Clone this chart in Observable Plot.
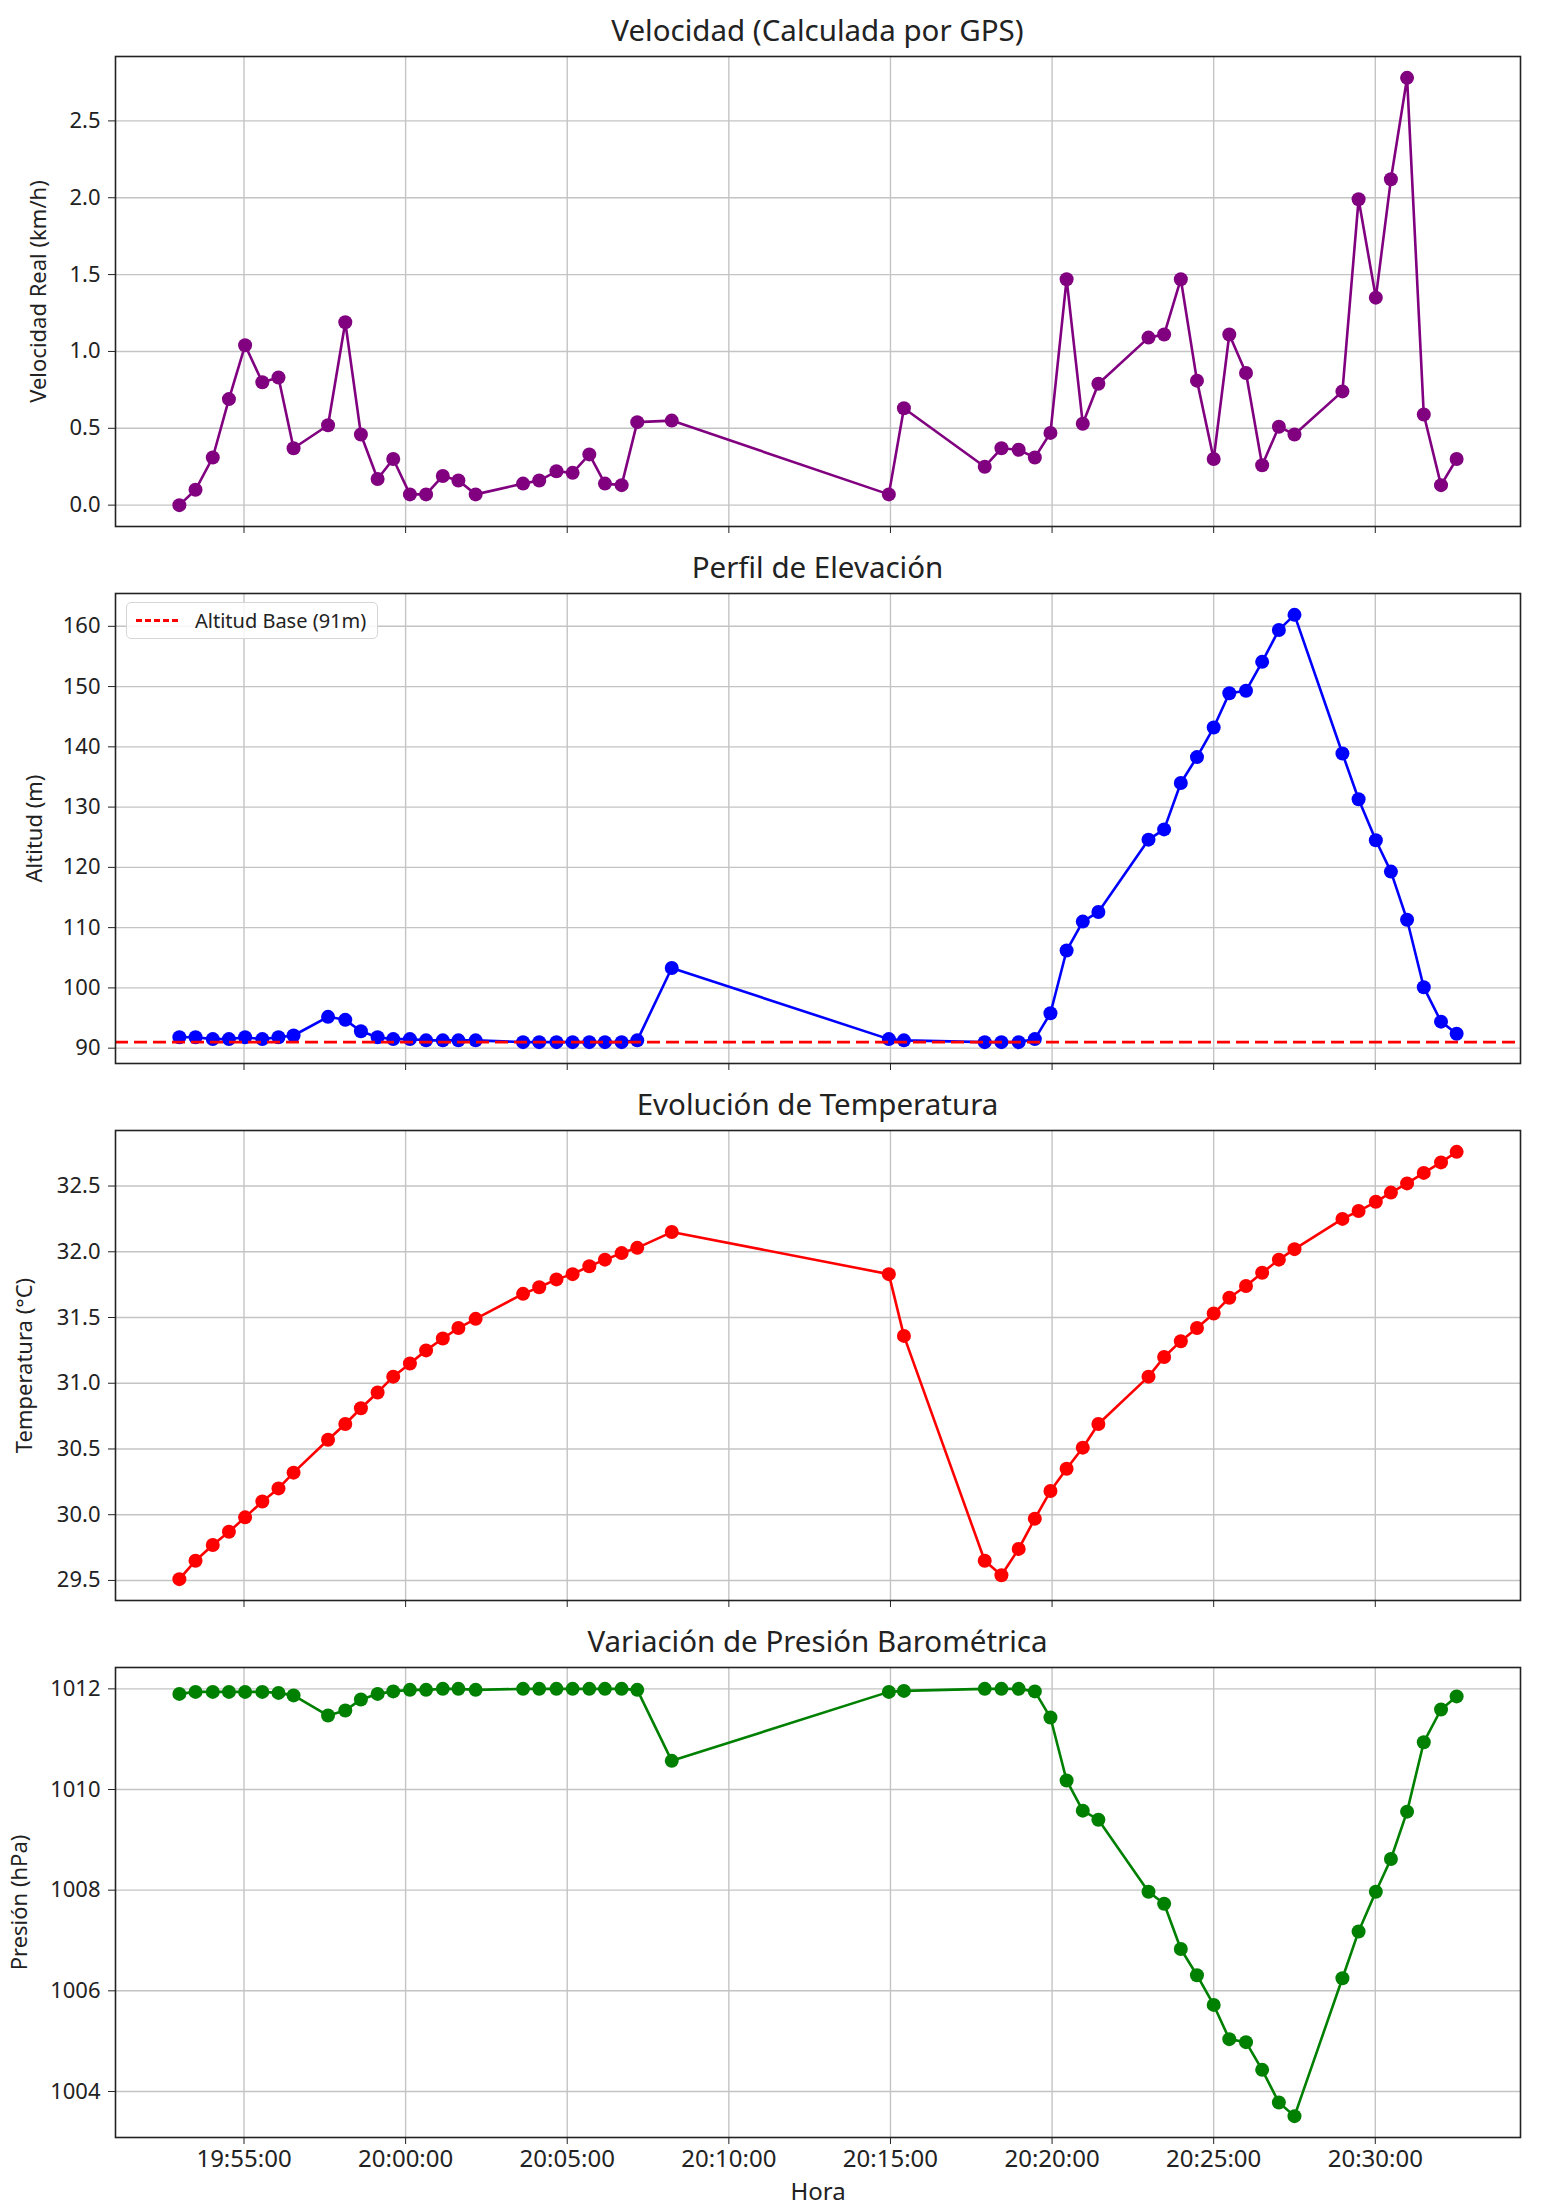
<!DOCTYPE html>
<html>
<head>
<meta charset="utf-8">
<script src="https://cdn.jsdelivr.net/npm/d3@7"></script>
<script src="https://cdn.jsdelivr.net/npm/@observablehq/plot@0.6"></script>
<style>
  html, body { margin: 0; padding: 0; background: #fff; }
  body { width: 1545px; font-family: "Noto Sans", "Open Sans", sans-serif; color: #222; }
  .panel { position: relative; width: 1545px; }
  .title { box-sizing: border-box; height: 46px; padding-top: 14px; line-height: 32px;
           margin-left: 115px; width: 1405px; text-align: center; font-size: 29.5px; color: #222; }
  .legend { position: absolute; left: 126px; top: 65px; width: 252px; height: 37px; box-sizing: border-box;
            border: 1.5px solid #d6d6d6; border-radius: 5px; background: rgba(255,255,255,0.85);
            font-size: 20px; color: #222; }
  .legend .swatch { position: absolute; left: 9px; top: 16px; width: 42px; height: 0;
                    border-top: 3px dashed #ff0000; }
  .legend .lab { position: absolute; left: 68px; top: 0; line-height: 35px; white-space: nowrap; }
</style>
</head>
<body>
<div id="root"></div>
<script>
// ---- data ----
const horas = [
  "19:53:00","19:53:30","19:54:02","19:54:32","19:55:02","19:55:34","19:56:04","19:56:32",
  "19:57:36","19:58:08","19:58:37","19:59:08","19:59:37","20:00:08","20:00:38","20:01:09",
  "20:01:38","20:02:10","20:03:38","20:04:08","20:04:40","20:05:10","20:05:41","20:06:10",
  "20:06:41","20:07:10","20:08:14",
  "20:14:57","20:15:25","20:17:55","20:18:26","20:18:58","20:19:28","20:19:57","20:20:27",
  "20:20:57","20:21:26","20:22:59","20:23:28","20:23:59","20:24:29","20:25:00","20:25:29",
  "20:26:00","20:26:30","20:27:01","20:27:30","20:28:59","20:29:29","20:30:01","20:30:29",
  "20:30:59","20:31:30","20:32:02","20:32:31"
];
const velocidad = [
  0.00,0.10,0.31,0.69,1.04,0.80,0.83,0.37,
  0.52,1.19,0.46,0.17,0.30,0.07,0.07,0.19,
  0.16,0.07,0.14,0.16,0.22,0.21,0.33,0.14,
  0.13,0.54,0.55,
  0.07,0.63,0.25,0.37,0.36,0.31,0.47,1.47,
  0.53,0.79,1.09,1.11,1.47,0.81,0.30,1.11,
  0.86,0.26,0.51,0.46,0.74,1.99,1.35,2.12,
  2.78,0.59,0.13,0.30
];
const altitud = [
  91.8,91.8,91.5,91.5,91.8,91.5,91.8,92.1,
  95.2,94.7,92.8,91.8,91.5,91.5,91.3,91.3,
  91.3,91.3,91.0,91.0,91.0,91.0,91.0,91.0,
  91.0,91.3,103.3,
  91.5,91.3,91.0,91.0,91.0,91.5,95.8,106.2,
  111.0,112.6,124.6,126.3,134.0,138.3,143.2,148.9,
  149.3,154.1,159.4,161.9,138.9,131.3,124.5,119.3,
  111.3,100.1,94.4,92.4
];
const temperatura = [
  29.51,29.65,29.77,29.87,29.98,30.10,30.20,30.32,
  30.57,30.69,30.81,30.93,31.05,31.15,31.25,31.34,
  31.42,31.49,31.68,31.73,31.79,31.83,31.89,31.94,
  31.99,32.03,32.15,
  31.83,31.36,29.65,29.54,29.74,29.97,30.18,30.35,
  30.51,30.69,31.05,31.20,31.32,31.42,31.53,31.65,
  31.74,31.84,31.94,32.02,32.25,32.31,32.38,32.45,
  32.52,32.60,32.68,32.76
];
const presion = [
  1011.90,1011.94,1011.94,1011.94,1011.94,1011.94,1011.92,1011.87,
  1011.47,1011.57,1011.79,1011.90,1011.95,1011.98,1011.98,1012.00,
  1012.00,1011.98,1012.00,1012.00,1012.00,1012.00,1012.00,1012.00,
  1012.00,1011.98,1010.57,
  1011.94,1011.96,1012.00,1012.00,1012.00,1011.95,1011.43,1010.18,
  1009.58,1009.40,1007.97,1007.73,1006.83,1006.31,1005.72,1005.04,
  1004.98,1004.43,1003.78,1003.51,1006.25,1007.18,1007.97,1008.62,
  1009.56,1010.94,1011.59,1011.85
];
const altitudBase = 91;
const ticksHora = ["19:55:00","20:00:00","20:05:00","20:10:00","20:15:00","20:20:00","20:25:00","20:30:00"];
const ticksVel = [0, 0.5, 1.0, 1.5, 2.0, 2.5];
const ticksAlt = [90, 100, 110, 120, 130, 140, 150, 160];
const ticksTemp = [29.5, 30.0, 30.5, 31.0, 31.5, 32.0, 32.5];
const ticksPres = [1004, 1006, 1008, 1010, 1012];

// ---- helpers ----
const parseHora = s => { const [h, m, sec] = s.split(":").map(Number); return new Date(Date.UTC(2024, 0, 1, h, m, sec)); };
const times = horas.map(parseHora);
const xTicks = ticksHora.map(parseHora);
const pad = ([a, b]) => { const d = (b - a) * 0.05; return [a - d, b + d]; };
const xDomain = pad(d3.extent(times, d => +d)).map(d => new Date(d));
const fmtHora = d3.utcFormat("%H:%M:%S");

const panels = [
  {title: "Velocidad (Calculada por GPS)", values: velocidad, color: "#800080", label: "Velocidad Real (km/h)", ticks: ticksVel, fmt: d3.format(".1f"), labelOffset: 85},
  {title: "Perfil de Elevación", values: altitud, color: "#0000ff", label: "Altitud (m)", ticks: ticksAlt, fmt: d3.format("d"), labelOffset: 89},
  {title: "Evolución de Temperatura", values: temperatura, color: "#ff0000", label: "Temperatura (°C)", ticks: ticksTemp, fmt: d3.format(".1f"), labelOffset: 99},
  {title: "Variación de Presión Barométrica", values: presion, color: "#008000", label: "Presión (hPa)", ticks: ticksPres, fmt: d3.format("d"), labelOffset: 104, last: true}
];
panels[1].base = altitudBase;

const root = document.getElementById("root");
const gridColor = "#c4c4c4";
const FONT = "'Noto Sans', 'Open Sans', sans-serif";

panels.forEach(p => {
  const data = times.map((t, i) => ({t, v: p.values[i]}));
  const yDomain = pad(d3.extent(p.values));
  const marks = [
    Plot.gridX(xTicks, {stroke: gridColor, strokeOpacity: 1, strokeWidth: 1.4}),
    Plot.gridY(p.ticks, {stroke: gridColor, strokeOpacity: 1, strokeWidth: 1.4}),
    Plot.axisY({ticks: p.ticks, tickFormat: p.fmt, tickSize: 7, tickPadding: 8, fontSize: 22,
                label: p.label, labelAnchor: "center", labelArrow: "none", labelOffset: p.labelOffset}),
    p.last
      ? Plot.axisX({ticks: xTicks, tickFormat: fmtHora, tickSize: 7, tickPadding: 5, fontSize: 24,
                    label: "Hora", labelAnchor: "center", labelArrow: "none", labelOffset: 62})
      : Plot.axisX({ticks: xTicks, tickFormat: () => "", tickSize: 7, label: null}),
    Plot.line(data, {x: "t", y: "v", stroke: p.color, strokeWidth: 2.6}),
    Plot.dot(data, {x: "t", y: "v", fill: p.color, r: 7, stroke: "none"})
  ];
  if (p.base !== undefined) {
    marks.push(Plot.ruleY([p.base], {stroke: "#ff0000", strokeWidth: 2.6, strokeDasharray: "13,6"}));
  }
  marks.push(Plot.frame({stroke: "#222", strokeWidth: 1.6}));

  const svgHeight = p.last ? 546 : 491;
  const chart = Plot.plot({
    width: 1545,
    height: svgHeight,
    marginLeft: 115,
    marginRight: 25,
    marginTop: 10,
    marginBottom: svgHeight - 10 - 470,
    x: {type: "utc", domain: xDomain},
    y: {domain: yDomain},
    style: {fontFamily: FONT, fontSize: "21px", color: "#222", background: "#fff", overflow: "visible"},
    marks
  });

  const panel = document.createElement("div");
  panel.className = "panel";
  const title = document.createElement("div");
  title.className = "title";
  title.textContent = p.title;
  panel.appendChild(title);
  panel.appendChild(chart);
  if (p.base !== undefined) {
    const lg = document.createElement("div");
    lg.className = "legend";
    lg.innerHTML = '<div class="swatch"></div><div class="lab">Altitud Base (91m)</div>';
    panel.appendChild(lg);
  }
  root.appendChild(panel);
});
</script>
</body>
</html>
